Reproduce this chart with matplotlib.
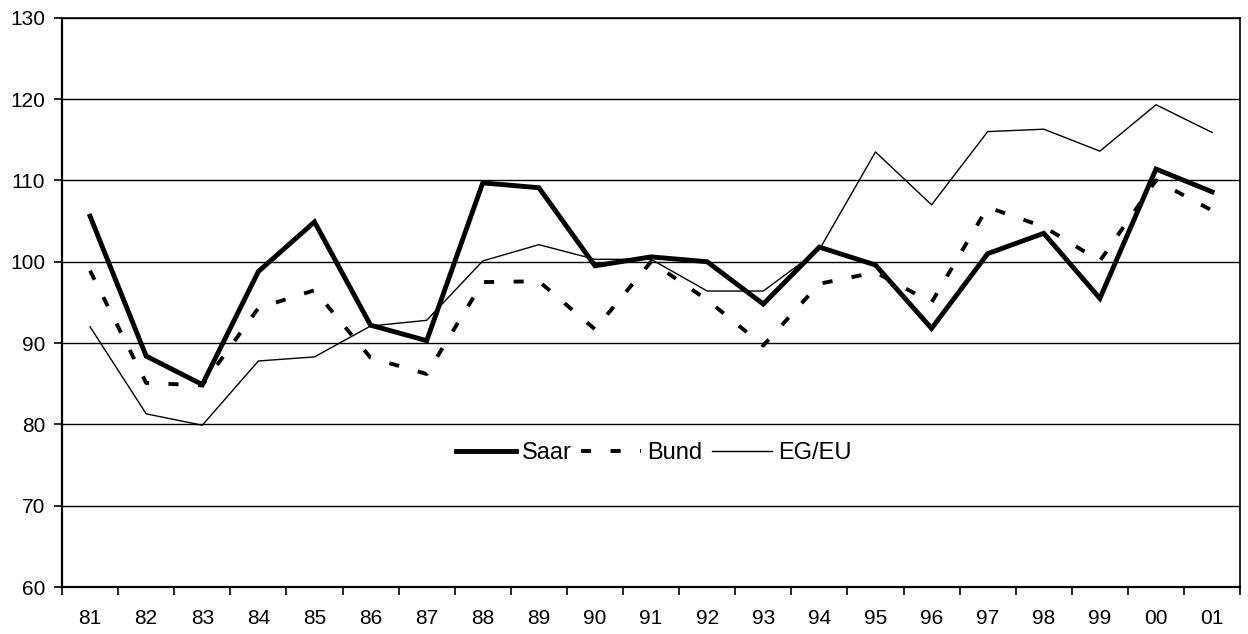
"""Saar / Bund / EG-EU Indexverlauf 1981-2001 (Nachbau einer gescannten Excel-Grafik)."""
import numpy as np
import matplotlib
matplotlib.use("Agg")
import matplotlib.pyplot as plt
from matplotlib.ticker import FixedLocator, NullFormatter

years = ["81", "82", "83", "84", "85", "86", "87", "88", "89", "90", "91",
         "92", "93", "94", "95", "96", "97", "98", "99", "00", "01"]

saar = [105.6, 88.4, 84.9, 98.8, 104.9, 92.2, 90.3, 109.7, 109.1, 99.5, 100.6,
        100.0, 94.8, 101.8, 99.6, 91.8, 101.0, 103.5, 95.5, 111.4, 108.6]
bund = [98.9, 85.1, 84.8, 94.3, 96.5, 88.2, 86.2, 97.5, 97.6, 91.7, 100.0,
        95.3, 89.7, 97.3, 98.7, 95.0, 106.7, 104.3, 100.1, 110.0, 106.3]
eg_eu = [92.0, 81.3, 79.9, 87.8, 88.3, 92.1, 92.8, 100.1, 102.1, 100.3, 100.3,
         96.4, 96.4, 101.5, 113.5, 107.0, 116.0, 116.3, 113.6, 119.3, 115.9]

y_ticks = [60, 70, 80, 90, 100, 110, 120, 130]

plt.rcParams.update({
    "font.family": ["Liberation Sans", "DejaVu Sans"],
    "figure.facecolor": "white",
    "axes.facecolor": "white",
})

fig = plt.figure(figsize=(12.48, 6.34), dpi=100)
ax = fig.add_axes([0.0497, 0.074, 0.944, 0.898])

x = np.arange(len(years))
ax.plot(x, saar, color="black", lw=3.5, solid_joinstyle="miter", label="Saar", zorder=4)
ax.plot(x, bund, color="black", lw=2.8, linestyle=(0, (2.6, 5.0)),
        dash_capstyle="butt", label="Bund", zorder=3)
ax.plot(x, eg_eu, color="black", lw=1.0, label="EG/EU", zorder=2)

ax.set_xlim(-0.5, len(years) - 0.5)
ax.set_ylim(60, 130)
ax.set_yticks(y_ticks)
ax.yaxis.grid(True, color="black", lw=1.0)
ax.set_axisbelow(True)

ax.set_xticks(x)
ax.set_xticklabels(years)
ax.xaxis.set_minor_locator(FixedLocator(np.arange(-0.5, len(years), 1.0)))
ax.xaxis.set_minor_formatter(NullFormatter())
ax.tick_params(axis="x", which="major", length=0, pad=16, labelsize=15)
ax.tick_params(axis="x", which="minor", length=6, width=1.2, direction="out")
ax.tick_params(axis="y", length=6, width=1.2, direction="out", pad=6, labelsize=15)

for side in ["left", "bottom"]:
    ax.spines[side].set_linewidth(1.6)
for side in ["top", "right"]:
    ax.spines[side].set_linewidth(1.2)

ax.legend(loc="center", bbox_to_anchor=(0.502, 0.235), ncol=3, frameon=False,
          fontsize=17, handlelength=2.55, handletextpad=0.25, columnspacing=0.4)

fig.savefig("out.png", dpi=100)
